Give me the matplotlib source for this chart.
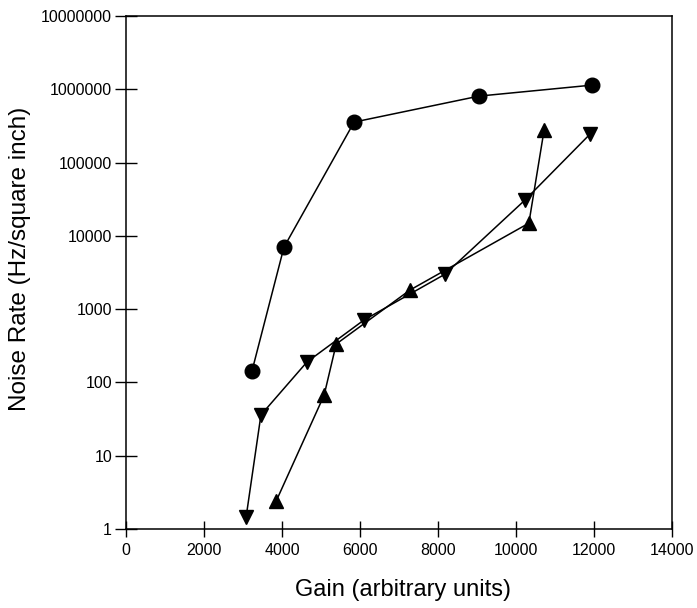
import matplotlib
matplotlib.use("Agg")
import matplotlib.pyplot as plt
from matplotlib.ticker import FixedLocator, FuncFormatter, NullLocator

plt.rcParams['font.family'] = ['Liberation Sans', 'DejaVu Sans']

# Gain (arbitrary units) and noise rate (Hz/square inch) for three configurations
gain_circle = [3230, 4050, 5850, 9050, 11950]
rate_circle = [143, 7000, 357000, 807000, 1140000]

gain_down = [3080, 3460, 4640, 6100, 8180, 10230, 11900]
rate_down = [1.46, 36, 190, 710, 3000, 30800, 245000]

gain_up = [3850, 5080, 5390, 7280, 10330, 10720]
rate_up = [2.4, 67, 334, 1820, 14900, 277000]

x_ticks = [0, 2000, 4000, 6000, 8000, 10000, 12000, 14000]
y_ticks = [1, 10, 100, 1000, 10000, 100000, 1000000, 10000000]

fig = plt.figure(figsize=(6.97, 6.08), dpi=100)
ax = fig.add_axes([126/697, 1 - 529/608, (672 - 126)/697, (529 - 16)/608])

style = dict(color='black', linewidth=1.1, markersize=10.5, clip_on=False)
ax.plot(gain_circle, rate_circle, marker='o', **style)
ax.plot(gain_down, rate_down, marker='v', **style)
ax.plot(gain_up, rate_up, marker='^', **style)

ax.set_yscale('log')
ax.set_xlim(0, 14000)
ax.set_ylim(1, 10000000)
ax.xaxis.set_major_locator(FixedLocator(x_ticks))
ax.yaxis.set_major_locator(FixedLocator(y_ticks))
ax.yaxis.set_minor_locator(NullLocator())
ax.yaxis.set_major_formatter(FuncFormatter(lambda v, p: f"{int(round(v))}"))
ax.xaxis.set_major_formatter(FuncFormatter(lambda v, p: f"{int(round(v))}"))

ax.tick_params(axis='y', direction='inout', length=16, width=1, labelsize=11.5, pad=2)
ax.tick_params(axis='x', direction='inout', length=12, width=1, labelsize=11.5, pad=4)
for s in ax.spines.values():
    s.set_linewidth(1.1)

ax.set_xlabel('Gain (arbitrary units)', fontsize=17)
ax.set_ylabel('Noise Rate (Hz/square inch)', fontsize=17.5)
ax.xaxis.set_label_coords(0.508, -0.098)
ax.yaxis.set_label_coords(-0.174, 0.526)

fig.savefig('out.png', dpi=100)
